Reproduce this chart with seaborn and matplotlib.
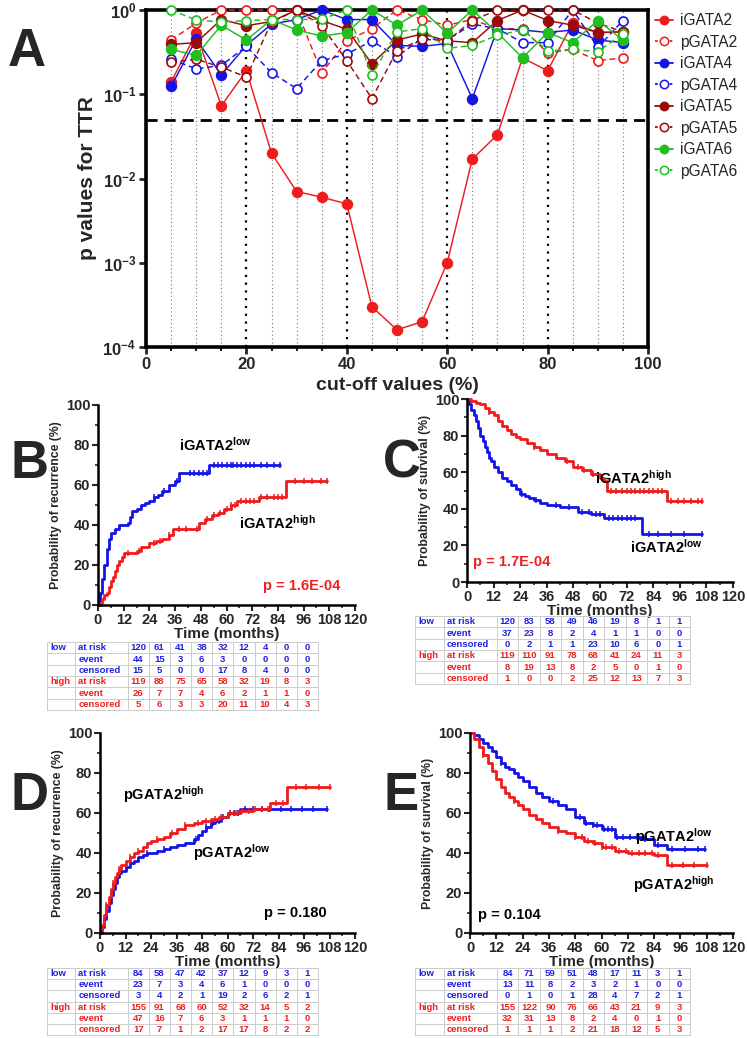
import numpy as np
import pandas as pd
import matplotlib
matplotlib.use('Agg')
import matplotlib.pyplot as plt
import seaborn as sns
from matplotlib.ticker import FixedLocator, MultipleLocator, FixedFormatter
from matplotlib.lines import Line2D

# ---------------- data: panel A ----------------
cutoffs = [5, 10, 15, 20, 25, 30, 35, 40, 45, 50, 55, 60, 65, 70, 75, 80, 85, 90, 95]
iGATA2 = [0.14, 0.53, 0.073, 0.19, 0.02, 0.007, 0.006, 0.005, 0.0003, 0.00016, 0.0002, 0.001, 0.017, 0.033, 0.27, 0.19, 0.70, 0.54, 0.55]
pGATA2 = [0.44, 0.70, 1.0, 1.0, 1.0, 1.0, 0.18, 0.43, 0.60, 1.0, 0.77, 0.66, 0.77, 0.60, 0.60, 0.31, 0.34, 0.25, 0.27]
iGATA4 = [0.124, 0.45, 0.17, 0.38, 0.68, 0.77, 1.0, 0.77, 0.77, 0.38, 0.37, 0.40, 0.089, 0.60, 0.58, 0.54, 0.58, 0.44, 0.41]
pGATA4 = [0.26, 0.20, 0.22, 0.37, 0.18, 0.117, 0.25, 0.30, 0.43, 0.28, 0.46, 0.44, 0.68, 0.60, 0.41, 0.41, 1.0, 0.36, 0.75]
iGATA5 = [0.39, 0.41, 0.77, 0.65, 0.73, 1.0, 0.75, 0.59, 0.23, 0.44, 0.52, 0.43, 0.41, 0.75, 1.0, 0.75, 0.66, 0.54, 0.55]
pGATA5 = [0.24, 0.26, 0.21, 0.16, 0.72, 1.0, 0.65, 0.25, 0.089, 0.33, 0.45, 0.43, 0.75, 1.0, 1.0, 1.0, 1.0, 0.70, 0.55]
iGATA6 = [0.34, 0.29, 0.66, 0.44, 0.77, 0.58, 0.49, 0.54, 1.0, 0.66, 1.0, 0.53, 1.0, 0.54, 0.27, 0.54, 0.41, 0.75, 0.44]
pGATA6 = [1.0, 0.76, 0.72, 0.75, 0.77, 0.77, 0.78, 1.0, 0.17, 0.55, 0.60, 0.35, 0.38, 0.50, 0.58, 0.33, 0.34, 0.32, 0.52]
series_names = ["iGATA2", "pGATA2", "iGATA4", "pGATA4", "iGATA5", "pGATA5", "iGATA6", "pGATA6"]
series_vals = [iGATA2, pGATA2, iGATA4, pGATA4, iGATA5, pGATA5, iGATA6, pGATA6]

# ---------------- data: KM curves ----------------
# Panel B: iGATA2, probability of recurrence (%)
B_low_t = [0, 1, 2, 3, 4, 5, 6, 8, 10, 12, 14, 15, 16, 18, 20, 22, 24, 26, 28, 30, 33, 36, 38, 52, 85]
B_low_v = [0, 6, 13, 20, 28, 33, 36, 38, 40, 40, 41, 44, 47, 48, 50, 51, 52, 54, 55, 57, 60, 62, 66, 70, 70]
B_low_c = [26, 31, 37, 43, 45, 47, 49, 51, 54, 56, 58, 60, 62, 63, 65, 67, 69, 71, 73, 76, 79, 82, 85]
B_high_t = [0, 1, 2, 3, 4, 5, 6, 7, 8, 9, 10, 11, 12, 18, 20, 24, 27, 30, 33, 35, 44, 47, 50, 53, 56, 59, 62, 65, 75, 88, 107]
B_high_v = [0, 1, 3, 5, 6, 9, 12, 14, 17, 20, 22, 24, 26, 27, 29, 31, 32, 33, 35, 38, 38, 41, 43, 45, 46, 48, 50, 52, 54, 62, 62]
B_high_c = [14, 19, 26, 29, 33, 38, 41, 46, 51, 54, 57, 60, 62, 64, 67, 69, 71, 73, 76, 79, 82, 84, 86, 92, 96, 100, 104, 107]

# Panel C: iGATA2, probability of survival (%)
C_low_t = [0, 1, 2, 3, 4, 5, 6, 7, 8, 9, 10, 11, 12, 14, 16, 18, 20, 22, 24, 26, 28, 30, 33, 36, 42, 48, 50, 56, 60, 62, 78, 79, 106]
C_low_v = [100, 97, 94, 91, 88, 84, 80, 77, 74, 71, 68, 66, 63, 60, 57, 55, 53, 51, 48, 47, 46, 45, 43, 42, 41, 41, 38, 37, 37, 35, 35, 26.5, 26.5]
C_low_c = [25, 31, 40, 46, 52, 55, 58, 60, 64, 66, 68, 70, 72, 74, 76, 82, 86, 92, 98, 106]
C_high_t = [0, 2, 4, 6, 8, 10, 12, 14, 16, 18, 20, 22, 24, 27, 30, 33, 36, 40, 44, 48, 52, 56, 60, 62, 63, 90, 106]
C_high_v = [100, 99, 98, 97, 95, 93, 91, 88, 85, 83, 81, 79, 78, 76, 74, 72, 70, 68, 66, 63, 61, 59, 57, 55, 50, 44, 44]
C_high_c = [10, 30, 45, 50, 53, 57, 61, 65, 67, 70, 72, 74, 76, 78, 80, 82, 84, 86, 88, 92, 95, 98, 101, 104, 106]

# Panel D: pGATA2, probability of recurrence (%)
D_low_t = [0, 1, 2, 3, 4, 5, 6, 7, 8, 9, 10, 12, 14, 16, 18, 20, 22, 24, 27, 30, 33, 36, 40, 44, 46, 48, 50, 52, 54, 57, 60, 66, 107]
D_low_v = [0, 3, 7, 11, 15, 19, 22, 25, 28, 30, 31, 33, 35, 36, 38, 39, 40, 40, 41, 42, 43, 44, 45, 47, 49, 51, 53, 55, 56, 58, 60, 62, 62]
D_low_c = [5, 22, 30, 45, 50, 53, 56, 58, 61, 63, 65, 68, 72, 76, 80, 85, 90, 95, 100, 107]
D_high_t = [0, 1, 2, 3, 4, 5, 6, 7, 8, 9, 10, 12, 14, 16, 18, 20, 22, 24, 27, 30, 33, 36, 40, 44, 48, 52, 56, 60, 66, 72, 80, 88, 108]
D_high_v = [0, 4, 9, 14, 18, 22, 25, 28, 30, 32, 34, 36, 38, 40, 41, 43, 45, 46, 47, 48, 50, 52, 54, 55, 56, 57, 58, 60, 61, 62, 65, 73, 73]
D_high_c = [3, 6, 9, 14, 18, 27, 34, 40, 46, 50, 54, 57, 61, 64, 67, 70, 73, 76, 79, 83, 86, 92, 97, 103, 108]

# Panel E: pGATA2, probability of survival (%)
E_low_t = [0, 2, 4, 6, 8, 10, 12, 14, 16, 18, 20, 22, 24, 27, 30, 33, 36, 40, 44, 48, 52, 56, 60, 66, 72, 78, 84, 90, 107]
E_low_v = [100, 99, 97, 95, 93, 91, 88, 85, 83, 82, 80, 78, 76, 73, 70, 68, 66, 64, 62, 58, 55, 54, 52, 48, 48, 47, 44, 42, 42]
E_low_c = [14, 38, 50, 53, 56, 58, 61, 63, 65, 67, 70, 73, 76, 80, 86, 92, 98, 104, 107]
E_high_t = [0, 2, 4, 6, 8, 10, 12, 14, 16, 18, 20, 22, 24, 27, 30, 33, 36, 40, 44, 48, 52, 56, 60, 66, 72, 84, 90, 108]
E_high_v = [100, 97, 93, 89, 85, 81, 77, 73, 70, 68, 66, 64, 62, 59, 57, 55, 53, 51, 50, 48, 46, 45, 43, 41, 40, 39, 34, 34]
E_high_c = [6, 20, 40, 48, 51, 54, 57, 60, 62, 65, 68, 71, 74, 77, 80, 83, 86, 92, 97, 102, 108]

# ---------------- data: risk tables ----------------
row_labels = ["at risk", "event", "censored"]
B_low_tab = [[120, 61, 41, 38, 32, 12, 4, 0, 0], [44, 15, 3, 6, 3, 0, 0, 0, 0], [15, 5, 0, 0, 17, 8, 4, 0, 0]]
B_high_tab = [[119, 88, 75, 65, 58, 32, 19, 8, 3], [26, 7, 7, 4, 6, 2, 1, 1, 0], [5, 6, 3, 3, 20, 11, 10, 4, 3]]
C_low_tab = [[120, 83, 58, 49, 46, 19, 8, 1, 1], [37, 23, 8, 2, 4, 1, 1, 0, 0], [0, 2, 1, 1, 23, 10, 6, 0, 1]]
C_high_tab = [[119, 110, 91, 78, 68, 41, 24, 11, 3], [8, 19, 13, 8, 2, 5, 0, 1, 0], [1, 0, 0, 2, 25, 12, 13, 7, 3]]
D_low_tab = [[84, 58, 47, 42, 37, 12, 9, 3, 1], [23, 7, 3, 4, 6, 1, 0, 0, 0], [3, 4, 2, 1, 19, 2, 6, 2, 1]]
D_high_tab = [[155, 91, 68, 60, 52, 32, 14, 5, 2], [47, 16, 7, 6, 3, 1, 1, 1, 0], [17, 7, 1, 2, 17, 17, 8, 2, 2]]
E_low_tab = [[84, 71, 59, 51, 48, 17, 11, 3, 1], [13, 11, 8, 2, 3, 2, 1, 0, 0], [0, 1, 0, 1, 28, 4, 7, 2, 1]]
E_high_tab = [[155, 122, 90, 76, 66, 43, 21, 9, 3], [32, 31, 13, 8, 2, 4, 0, 1, 0], [1, 1, 1, 2, 21, 18, 12, 5, 3]]

# ---------------- style ----------------
sns.set_theme(style='white')
plt.rcParams['font.family'] = ['Liberation Sans', 'DejaVu Sans']
plt.rcParams['mathtext.fontset'] = 'custom'
plt.rcParams['mathtext.rm'] = 'Liberation Sans'
plt.rcParams['mathtext.bf'] = 'Liberation Sans:bold'
plt.rcParams['mathtext.it'] = 'Liberation Sans:italic'
plt.rcParams['axes.edgecolor'] = 'black'

RED = '#ee1c1c'
BLUE = '#1414e6'
DRED = '#9a0a0a'
GREEN = '#1fbf1f'
TBLUE = '#2020e0'
TRED = '#ee2020'
series_colors = [RED, RED, BLUE, BLUE, DRED, DRED, GREEN, GREEN]

W, H = 747, 1038
fig = plt.figure(figsize=(W / 100, H / 100), dpi=100)


def rect(l, t, r, b):
    return [l / W, 1 - b / H, (r - l) / W, (b - t) / H]


# ---------------- Panel A ----------------
axA = fig.add_axes(rect(146, 10, 648, 347))
for xv in range(5, 100, 5):
    if xv % 20 == 0:
        axA.axvline(xv, color='black', ls=(0, (1, 2.5)), lw=1.6, zorder=0)
    else:
        axA.axvline(xv, color='#777777', ls=(0, (1, 2.5)), lw=0.8, zorder=0)
axA.axhline(0.05, color='black', ls=(0, (4, 2.5)), lw=2.0, zorder=1)

handles = []
for name, vals, col in zip(series_names, series_vals, series_colors):
    filled = name.startswith('i')
    sns.lineplot(x=cutoffs, y=vals, ax=axA, color=col, marker='o',
                 markersize=7 if filled else 6.5,
                 markerfacecolor=col if filled else 'white',
                 markeredgecolor=col, markeredgewidth=1.2,
                 linestyle='-' if filled else (0, (4, 2.5)),
                 linewidth=1.05, clip_on=False, zorder=3)
    handles.append(Line2D([0], [0], color=col, marker='o', markersize=6,
                          markerfacecolor=col if filled else 'white',
                          markeredgecolor=col, markeredgewidth=1.1,
                          linestyle='-' if filled else (0, (1.5, 1.2)), linewidth=1.3))
axA.set_yscale('log')
axA.set_xlim(0, 100)
axA.set_ylim(1e-4, 1)
axA.yaxis.set_major_locator(FixedLocator([1e-4, 1e-3, 1e-2, 1e-1, 1]))
axA.yaxis.set_major_formatter(FixedFormatter([r'$\mathbf{10^{-4}}$', r'$\mathbf{10^{-3}}$',
                                              r'$\mathbf{10^{-2}}$', r'$\mathbf{10^{-1}}$',
                                              r'$\mathbf{10^{0}}$']))
axA.yaxis.set_minor_locator(FixedLocator([]))
axA.xaxis.set_major_locator(MultipleLocator(20))
axA.xaxis.set_minor_locator(MultipleLocator(5))
for s in axA.spines.values():
    s.set_linewidth(2.6)
    s.set_color('black')
axA.tick_params(axis='both', which='major', direction='out', length=5, width=2,
                labelsize=12, bottom=True, left=True, top=False, right=False, pad=2)
axA.tick_params(axis='x', which='minor', direction='out', length=3, width=1.5, bottom=True)
for lab in axA.get_xticklabels():
    lab.set_fontweight('bold')
axA.set_xlabel('cut-off values (%)', fontsize=14, fontweight='bold', labelpad=4)
axA.set_ylabel('p values for TTR', fontsize=15, fontweight='bold', labelpad=4)
axA.legend(handles, series_names, loc='upper left', bbox_to_anchor=(1.004, 1.005),
           frameon=False, fontsize=11.2, handlelength=1.15, handletextpad=0.45,
           labelspacing=0.42, borderaxespad=0.0, borderpad=0.3)

fig.text(8 / W, 1 - 66 / H, 'A', fontsize=38, fontweight='bold')


# ---------------- KM panels ----------------
def step_at(t, v, c):
    t = np.asarray(t, float)
    v = np.asarray(v, float)
    idx = np.searchsorted(t, np.asarray(c, float), side='right') - 1
    return v[np.clip(idx, 0, len(v) - 1)]


def km_panel(box, curves, ylabel, texts):
    ax = fig.add_axes(rect(*box))
    for t, v, c, col in curves:
        sns.lineplot(x=t, y=v, ax=ax, color=col, drawstyle='steps-post',
                     linewidth=2.0, estimator=None, sort=False, clip_on=False)
        ax.plot(c, step_at(t, v, c), ls='none', marker='|', ms=5, mew=1.1,
                color=col, clip_on=False)
    ax.set_xlim(0, 120)
    ax.set_ylim(0, 100)
    ax.xaxis.set_major_locator(MultipleLocator(12))
    ax.yaxis.set_major_locator(MultipleLocator(20))
    ax.yaxis.set_minor_locator(MultipleLocator(10))
    ax.xaxis.set_minor_locator(MultipleLocator(6))
    for side in ['top', 'right']:
        ax.spines[side].set_visible(False)
    for side in ['left', 'bottom']:
        ax.spines[side].set_linewidth(1.8)
        ax.spines[side].set_color('black')
    ax.tick_params(axis='both', which='major', direction='out', length=4, width=1.5,
                   labelsize=10.5, bottom=True, left=True, pad=1.5)
    ax.tick_params(axis='both', which='minor', direction='out', length=2.5, width=1.2,
                   bottom=True, left=True)
    for lab in ax.get_xticklabels() + ax.get_yticklabels():
        lab.set_fontweight('bold')
    ax.set_xlabel('Time (months)', fontsize=11, fontweight='bold', labelpad=0.5)
    ax.set_ylabel(ylabel, fontsize=8.8, fontweight='bold', labelpad=3)
    for x, y, s, col, fs in texts:
        ax.text(x, y, s, color=col, fontsize=fs, fontweight='bold', ha='center', va='center')
    return ax


def risk_table(box, low, high):
    ax = fig.add_axes(rect(*box))
    ax.set_axis_off()
    colw = [28, 52] + [21] * 9
    edges = np.concatenate([[0], np.cumsum(colw)])
    total = edges[-1]
    ax.set_xlim(0, total)
    ax.set_ylim(6, 0)
    for i in range(7):
        ax.plot([0, total], [i, i], color='#cccccc', lw=0.7, clip_on=False)
    for e in edges:
        ax.plot([e, e], [0, 6], color='#cccccc', lw=0.7, clip_on=False)
    fam = ['Liberation Sans Narrow', 'Liberation Sans']
    for g, (gname, data, col) in enumerate([('low', low, TBLUE), ('high', high, TRED)]):
        for i in range(3):
            r = g * 3 + i + 0.5
            if i == 0:
                ax.text(edges[0] + 3, r, gname, color=col, fontsize=6.8, fontweight='bold',
                        ha='left', va='center', family=fam)
            ax.text(edges[1] + 3, r, row_labels[i], color=col, fontsize=6.8, fontweight='bold',
                    ha='left', va='center', family=fam)
            for j, val in enumerate(data[i]):
                ax.text((edges[j + 2] + edges[j + 3]) / 2, r, str(val), color=col,
                        fontsize=6.8, fontweight='bold', ha='center', va='center', family=fam)
    return ax


lowB = r'iGATA2$^{\mathbf{low}}$'
highB = r'iGATA2$^{\mathbf{high}}$'
lowP = r'pGATA2$^{\mathbf{low}}$'
highP = r'pGATA2$^{\mathbf{high}}$'

km_panel((98, 405, 355, 605),
         [(B_low_t, B_low_v, B_low_c, BLUE), (B_high_t, B_high_v, B_high_c, RED)],
         'Probability of recurrence (%)',
         [(55, 80, lowB, 'black', 10.5), (84, 41, highB, 'black', 10.5),
          (95, 9.5, 'p = 1.6E-04', TRED, 10.5)])
km_panel((467, 399, 733, 582),
         [(C_low_t, C_low_v, C_low_c, BLUE), (C_high_t, C_high_v, C_high_c, RED)],
         'Probability of survival (%)',
         [(75, 57, highB, 'black', 10.5), (90, 19, lowB, 'black', 10.5),
          (20, 11, 'p = 1.7E-04', TRED, 10.5)])
km_panel((100, 733, 355, 933),
         [(D_low_t, D_low_v, D_low_c, BLUE), (D_high_t, D_high_v, D_high_c, RED)],
         'Probability of recurrence (%)',
         [(30, 69, highP, 'black', 10.5), (62, 40, lowP, 'black', 10.5),
          (92, 10, 'p = 0.180', 'black', 10.5)])
km_panel((470, 733, 733, 933),
         [(E_low_t, E_low_v, E_low_c, BLUE), (E_high_t, E_high_v, E_high_c, RED)],
         'Probability of survival (%)',
         [(93, 48, lowP, 'black', 10.5), (93, 24, highP, 'black', 10.5),
          (18, 9, 'p = 0.104', 'black', 10.5)])

risk_table((47, 642, 318, 710), B_low_tab, B_high_tab)
risk_table((415, 616, 690, 684), C_low_tab, C_high_tab)
risk_table((47, 968, 318, 1035), D_low_tab, D_high_tab)
risk_table((415, 968, 690, 1035), E_low_tab, E_high_tab)

fig.text(10 / W, 1 - 478 / H, 'B', fontsize=38, fontweight='bold')
fig.text(383 / W, 1 - 478 / H, 'C', fontsize=38, fontweight='bold')
fig.text(10 / W, 1 - 810 / H, 'D', fontsize=38, fontweight='bold')
fig.text(383 / W, 1 - 810 / H, 'E', fontsize=38, fontweight='bold')

fig.savefig('out.png', dpi=100)
